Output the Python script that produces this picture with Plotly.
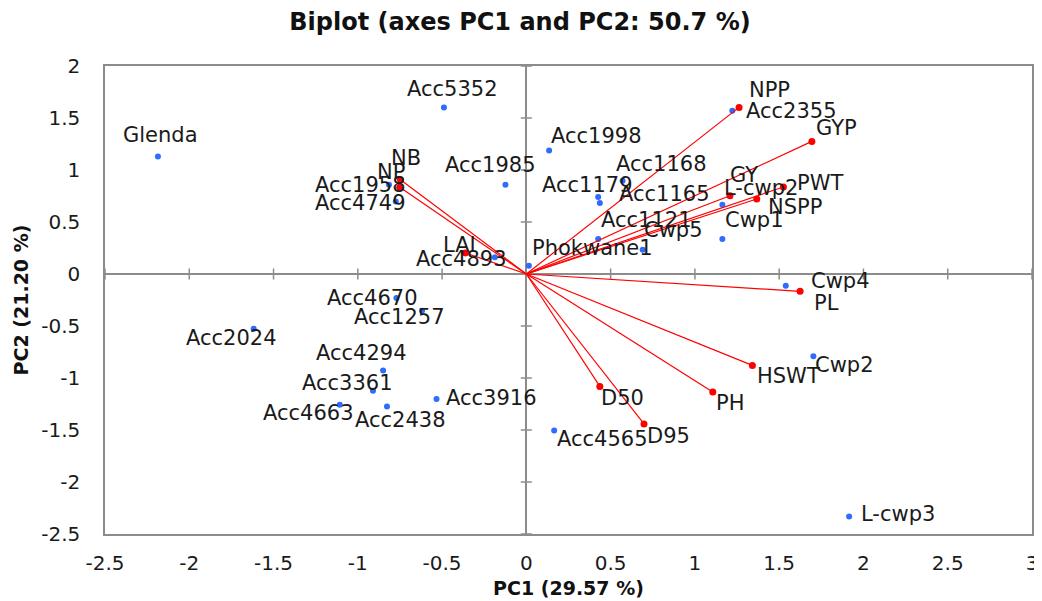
import plotly.graph_objects as go

# ---------------- data ----------------
OBS_NAMES = ["Glenda", "Acc5352", "Acc1958", "Acc4749", "Acc1985", "Acc4893", "Phokwane1",
             "Acc1998", "Acc2355", "Acc1168", "Acc1179", "Acc1165", "L-cwp2", "Acc1121",
             "Cwp5", "Cwp1", "Cwp4", "Cwp2", "Acc4565", "L-cwp3", "Acc4670", "Acc1257",
             "Acc2024", "Acc4294", "Acc3361", "Acc4663", "Acc2438", "Acc3916"]
OBS_PC1 = [-2.186, -0.489, -0.815, -0.775, -0.124, -0.187, 0.015,
           0.135, 1.222, 0.571, 0.426, 0.436, 1.163, 0.426,
           0.690, 1.163, 1.539, 1.703, 0.165, 1.915, -0.771, -0.619,
           -1.618, -0.850, -0.910, -1.107, -0.827, -0.533]
OBS_PC2 = [1.131, 1.602, 0.859, 0.698, 0.859, 0.160, 0.080,
           1.188, 1.570, 0.897, 0.740, 0.683, 0.666, 0.337,
           0.234, 0.337, -0.113, -0.792, -1.504, -2.331, -0.231, -0.353,
           -0.526, -0.927, -1.122, -1.257, -1.273, -1.202]

VAR_NAMES = ["NB", "NP", "LAI", "NPP", "GYP", "GY", "PWT", "NSPP", "PL", "HSWT", "PH", "D50", "D95"]
VAR_PC1 = [-0.747, -0.751, -0.361, 1.262, 1.694, 1.208, 1.525, 1.367, 1.624, 1.341, 1.106, 0.436, 0.698]
VAR_PC2 = [0.907, 0.833, 0.202, 1.602, 1.275, 0.753, 0.837, 0.721, -0.167, -0.879, -1.135, -1.081, -1.442]

X_TICKS = [-2.5, -2, -1.5, -1, -0.5, 0, 0.5, 1, 1.5, 2, 2.5, 3]
X_TICK_TEXT = ["-2.5", "-2", "-1.5", "-1", "-0.5", "0", "0.5", "1", "1.5", "2", "2.5", "3"]
Y_TICKS = [-2.5, -2, -1.5, -1, -0.5, 0, 0.5, 1, 1.5, 2]
Y_TICK_TEXT = ["-2.5", "-2", "-1.5", "-1", "-0.5", "0", "0.5", "1", "1.5", "2"]

TITLE = "Biplot (axes PC1 and PC2: 50.7 %)"
X_TITLE = "PC1 (29.57 %)"
Y_TITLE = "PC2 (21.20 %)"

# ---------------- label placement (pixel offsets: dx right, dy down) ----------------
OBS_LABEL_OFFSET = {
    "Glenda": (3, -21), "Acc5352": (9, -18), "Acc1958": (-29, 0), "Acc4749": (-35, 2),
    "Acc1985": (-15, -20), "Acc4893": (-33, 2), "Phokwane1": (64, -18), "Acc1998": (47, -14),
    "Acc2355": (59, 0), "Acc1168": (39, -17), "Acc1179": (-11, -12), "Acc1165": (65, -9),
    "L-cwp2": (39, -17), "Acc1121": (48, -19), "Cwp5": (31, -20), "Cwp1": (32, -19),
    "Cwp4": (55, -5), "Cwp2": (31, 9), "Acc4565": (48, 9), "L-cwp3": (49, -2),
    "Acc4670": (-24, 0), "Acc1257": (-23, 6), "Acc2024": (-22, 9), "Acc4294": (-22, -17),
    "Acc3361": (-25, -8), "Acc4663": (-31, 8), "Acc2438": (14, 14), "Acc3916": (55, -1),
}
VAR_LABEL_OFFSET = {
    "NB": (6, -22), "NP": (-9, -15), "LAI": (-6, -8), "NPP": (30, -17), "GYP": (25, -13),
    "GY": (14, -21), "PWT": (37, -4), "NSPP": (38, 8), "PL": (26, 12), "HSWT": (36, 11),
    "PH": (17, 11), "D50": (23, 12), "D95": (24, 12),
}

FONT = "DejaVu Sans"
AXIS_GREY = "#8c8c8c"
BLUE = "#2f6bff"
RED = "#ff0000"

# the page body adds an 8 px margin, so the figure is sized to fit the 1042x601 window
FIG_W, FIG_H = 1034, 593

fig = go.Figure()

# observations
fig.add_trace(go.Scatter(x=OBS_PC1, y=OBS_PC2, mode="markers",
                         marker=dict(color=BLUE, size=6), hoverinfo="text",
                         text=OBS_NAMES, showlegend=False))

# variable vectors
lx, ly = [], []
for vx, vy in zip(VAR_PC1, VAR_PC2):
    lx += [0, vx, None]
    ly += [0, vy, None]
fig.add_trace(go.Scatter(x=lx, y=ly, mode="lines", line=dict(color=RED, width=1.2),
                         hoverinfo="skip", showlegend=False))
fig.add_trace(go.Scatter(x=VAR_PC1, y=VAR_PC2, mode="markers",
                         marker=dict(color=RED, size=7), hoverinfo="text",
                         text=VAR_NAMES, showlegend=False))

annotations = []
for name, vx, vy in zip(OBS_NAMES, OBS_PC1, OBS_PC2):
    dx, dy = OBS_LABEL_OFFSET.get(name, (0, -15))
    annotations.append(dict(x=vx, y=vy, xref="x", yref="y", text=name, showarrow=False,
                            xanchor="center", yanchor="middle", xshift=dx, yshift=-dy,
                            font=dict(family=FONT, size=21, color="#1a1a1a")))
for name, vx, vy in zip(VAR_NAMES, VAR_PC1, VAR_PC2):
    dx, dy = VAR_LABEL_OFFSET.get(name, (0, -15))
    annotations.append(dict(x=vx, y=vy, xref="x", yref="y", text=name, showarrow=False,
                            xanchor="center", yanchor="middle", xshift=dx, yshift=-dy,
                            font=dict(family=FONT, size=21, color="#1a1a1a")))

# cross tick marks on the zero axes
shapes = []
for t in X_TICKS:
    if t != 0:
        shapes.append(dict(type="line", xref="x", yref="y", x0=t, x1=t,
                           ysizemode="pixel", yanchor=0, y0=-5.5, y1=5.5,
                           line=dict(color=AXIS_GREY, width=1.5), layer="below"))
for t in Y_TICKS:
    if t != 0:
        shapes.append(dict(type="line", xref="x", yref="y", y0=t, y1=t,
                           xsizemode="pixel", xanchor=0, x0=-5.5, x1=5.5,
                           line=dict(color=AXIS_GREY, width=1.5), layer="below"))

fig.update_layout(
    width=FIG_W, height=FIG_H,
    margin=dict(l=97, r=10, t=58, b=67, autoexpand=False),
    paper_bgcolor="white", plot_bgcolor="white",
    font=dict(family=FONT, color="#1a1a1a"),
    title=dict(text=TITLE, x=512 / FIG_W, xref="container", xanchor="center",
               y=1 - 14 / FIG_H, yref="container", yanchor="middle", automargin=False,
               font=dict(family=FONT, size=24, color="#111111", weight="bold")),
    xaxis=dict(range=[-2.5, 3], tickvals=X_TICKS, ticktext=X_TICK_TEXT, automargin=False,
               showgrid=False, zeroline=True, zerolinecolor=AXIS_GREY, zerolinewidth=1.5,
               showline=True, mirror=True, linecolor=AXIS_GREY, linewidth=1.5,
               ticks="outside", ticklen=10, tickcolor="rgba(0,0,0,0)",
               ticklabeloverflow="allow",
               tickfont=dict(family=FONT, size=20, color="#1a1a1a"),
               title=dict(text=X_TITLE, standoff=8,
                          font=dict(family=FONT, size=19, color="#111111", weight="bold"))),
    yaxis=dict(range=[-2.5, 2], tickvals=Y_TICKS, ticktext=Y_TICK_TEXT, automargin=False,
               showgrid=False, zeroline=True, zerolinecolor=AXIS_GREY, zerolinewidth=1.5,
               showline=True, mirror=True, linecolor=AXIS_GREY, linewidth=1.5,
               ticks="outside", ticklen=19, tickcolor="rgba(0,0,0,0)",
               ticklabeloverflow="allow",
               tickfont=dict(family=FONT, size=20, color="#1a1a1a"),
               title=dict(text=Y_TITLE, standoff=8,
                          font=dict(family=FONT, size=19, color="#111111", weight="bold"))),
    annotations=annotations,
    shapes=shapes,
)

fig.write_html("out.html")
